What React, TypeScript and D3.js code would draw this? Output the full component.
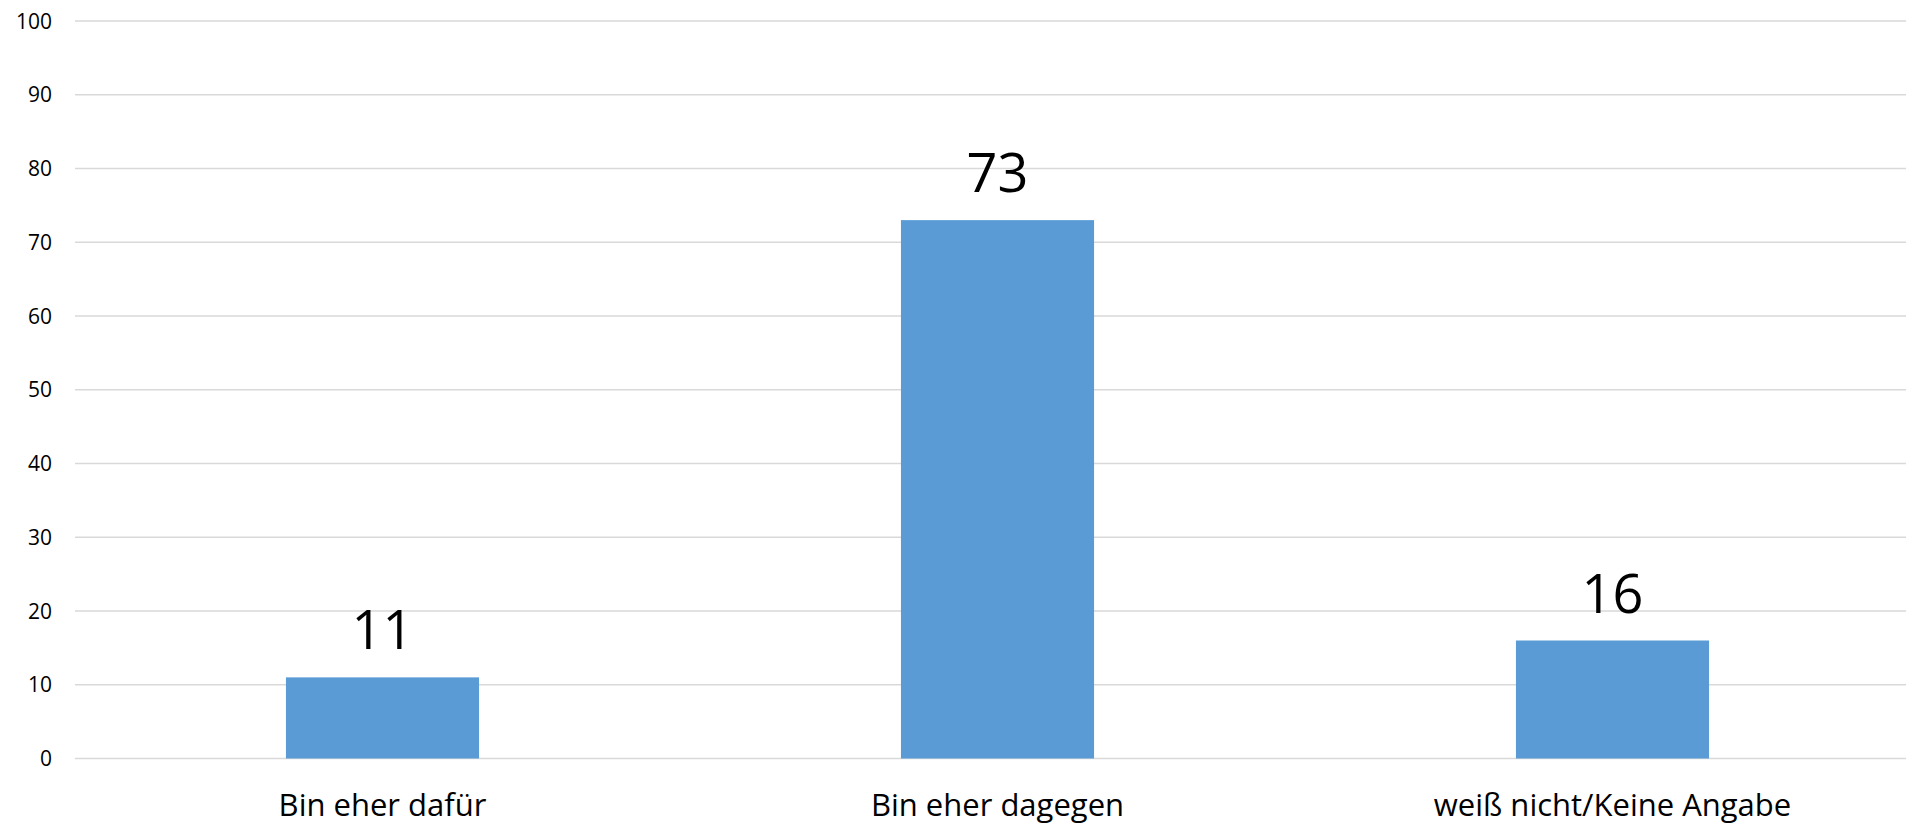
import React from "react";
import * as d3 from "d3";

const categories = ["Bin eher dafür", "Bin eher dagegen", "weiß nicht/Keine Angabe"];
const values = [11, 73, 16];
const yTicks = [0, 10, 20, 30, 40, 50, 60, 70, 80, 90, 100];

export default function App() {
  const W = 1906, H = 825;
  const left = 75, right = 1920, top = 21, bottom = 758.5;
  const x = d3.scaleBand<string>().domain(categories).range([left, right]).paddingInner(0.686).paddingOuter(0.343);
  const y = d3.scaleLinear().domain([0, 100]).range([bottom, top]);
  const font = "'Open Sans', 'Noto Sans', sans-serif";
  return (
    <svg width={W} height={H} style={{ position: "absolute", left: 0, top: 0, background: "#fff" }}>
      {yTicks.map((t) => (
        <g key={t}>
          <line x1={left} x2={W} y1={y(t)} y2={y(t)} stroke="#D9D9D9" strokeWidth={1.5} />
          <text x={52} y={y(t)} dy="0.36em" textAnchor="end" fontFamily={font} fontSize={21} fill="#000">{t}</text>
        </g>
      ))}
      {categories.map((c, i) => (
        <g key={c}>
          <rect x={x(c)} y={y(values[i])} width={x.bandwidth()} height={y(0) - y(values[i])} fill="#5B9BD5" />
          <text x={x(c)! + x.bandwidth() / 2} y={y(values[i]) - 28} textAnchor="middle" fontFamily={font} fontSize={54} fill="#000">{values[i]}</text>
          <text x={x(c)! + x.bandwidth() / 2} y={816} textAnchor="middle" fontFamily={font} fontSize={31} fill="#000">{c}</text>
        </g>
      ))}
    </svg>
  );
}
